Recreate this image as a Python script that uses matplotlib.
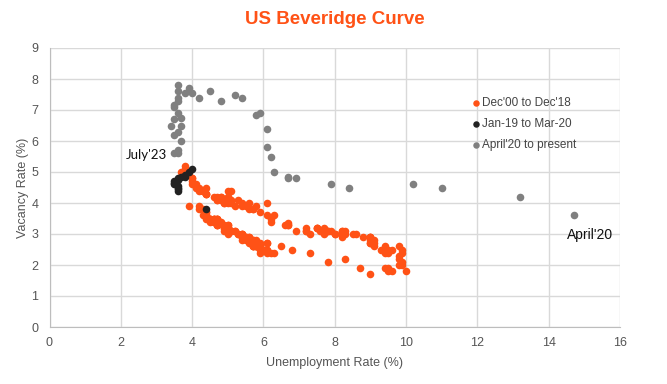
import numpy as np
import matplotlib.pyplot as plt

# Dec'00 to Dec'18 (orange), one value per month
u_orange = [3.9,
            4.2, 4.2, 4.3, 4.4, 4.3, 4.5, 4.6, 4.9, 5.0, 5.3, 5.5, 5.7,
            5.7, 5.7, 5.7, 5.9, 5.8, 5.8, 5.8, 5.7, 5.7, 5.7, 5.9, 6.0,
            5.8, 5.9, 5.9, 6.0, 6.1, 6.3, 6.2, 6.1, 6.1, 6.0, 5.8, 5.7,
            5.7, 5.6, 5.8, 5.6, 5.6, 5.6, 5.5, 5.4, 5.4, 5.5, 5.4, 5.4,
            5.3, 5.4, 5.2, 5.2, 5.1, 5.0, 5.0, 4.9, 5.0, 5.0, 5.0, 4.9,
            4.7, 4.8, 4.7, 4.7, 4.6, 4.6, 4.7, 4.7, 4.5, 4.4, 4.5, 4.4,
            4.6, 4.5, 4.4, 4.5, 4.4, 4.6, 4.7, 4.6, 4.7, 4.7, 4.7, 5.0,
            5.0, 4.9, 5.1, 5.0, 5.4, 5.6, 5.8, 6.1, 6.1, 6.5, 6.8, 7.3,
            7.8, 8.3, 8.7, 9.0, 9.4, 9.5, 9.5, 9.6, 9.8, 10.0, 9.9, 9.9,
            9.8, 9.8, 9.9, 9.9, 9.6, 9.4, 9.4, 9.5, 9.5, 9.4, 9.8, 9.3,
            9.1, 9.0, 9.0, 9.1, 9.0, 9.1, 9.0, 9.0, 9.0, 8.8, 8.6, 8.5,
            8.3, 8.3, 8.2, 8.2, 8.2, 8.2, 8.2, 8.0, 7.8, 7.8, 7.7, 7.9,
            8.0, 7.7, 7.5, 7.6, 7.5, 7.5, 7.3, 7.2, 7.2, 7.2, 6.9, 6.7,
            6.6, 6.7, 6.7, 6.2, 6.3, 6.1, 6.2, 6.1, 5.9, 5.7, 5.8, 5.6,
            5.7, 5.5, 5.4, 5.4, 5.6, 5.3, 5.2, 5.1, 5.0, 5.0, 5.1, 5.0,
            4.8, 4.9, 5.0, 5.1, 4.8, 4.9, 4.8, 4.9, 5.0, 4.9, 4.7, 4.7,
            4.7, 4.6, 4.4, 4.4, 4.4, 4.3, 4.3, 4.4, 4.3, 4.2, 4.2, 4.1,
            4.0, 4.1, 4.0, 4.0, 3.8, 4.0, 3.8, 3.8, 3.7, 3.8, 3.8, 3.9]
v_orange = [3.9,
            3.9, 3.8, 3.8, 3.7, 3.6, 3.5, 3.5, 3.3, 3.2, 3.0, 2.9, 2.8,
            2.8, 2.7, 2.7, 2.7, 2.6, 2.6, 2.6, 2.6, 2.6, 2.6, 2.6, 2.5,
            2.6, 2.5, 2.4, 2.5, 2.5, 2.4, 2.4, 2.4, 2.5, 2.5, 2.6, 2.6,
            2.7, 2.7, 2.7, 2.8, 2.8, 2.9, 2.8, 2.8, 2.9, 2.9, 3.0, 3.0,
            3.0, 3.0, 3.1, 3.1, 3.1, 3.2, 3.1, 3.2, 3.3, 3.2, 3.3, 3.2,
            3.4, 3.4, 3.5, 3.5, 3.4, 3.4, 3.5, 3.5, 3.5, 3.6, 3.5, 3.6,
            3.5, 3.5, 3.7, 3.4, 3.5, 3.5, 3.4, 3.5, 3.3, 3.3, 3.3, 3.2,
            3.2, 3.1, 3.1, 3.0, 2.9, 2.9, 2.8, 2.7, 2.7, 2.6, 2.5, 2.4,
            2.1, 2.2, 1.9, 1.7, 1.9, 1.8, 1.9, 1.8, 2.0, 1.8, 2.1, 2.0,
            2.2, 2.3, 2.4, 2.5, 2.5, 2.4, 2.5, 2.4, 2.5, 2.6, 2.6, 2.5,
            2.6, 2.7, 2.7, 2.8, 2.9, 2.7, 2.9, 2.8, 2.9, 2.9, 3.0, 3.0,
            3.0, 3.1, 3.0, 3.1, 2.9, 3.0, 3.1, 3.0, 3.1, 3.1, 3.0, 3.1,
            3.0, 3.2, 3.2, 3.1, 3.2, 3.2, 3.0, 3.2, 3.1, 3.1, 3.1, 3.35,
            3.3, 3.3, 3.3, 3.5, 3.6, 3.6, 3.4, 4.0, 3.7, 3.8, 3.9, 4.0,
            3.8, 3.9, 4.0, 3.9, 3.8, 4.1, 3.9, 4.1, 4.0, 4.2, 4.0, 4.1,
            4.2, 4.1, 4.4, 4.4, 4.1, 4.0, 4.2, 4.0, 4.2, 4.1, 4.1, 4.2,
            4.1, 4.2, 4.3, 4.3, 4.5, 4.4, 4.4, 4.3, 4.4, 4.5, 4.4, 4.5,
            4.6, 4.6, 4.7, 4.8, 4.9, 4.8, 5.0, 4.9, 5.0, 5.1, 5.2, 5.0]

# Jan-19 to Mar-20 (black)
u_black = [4.0, 3.9, 3.8, 3.8, 3.7, 3.6, 3.6, 3.5, 3.5, 3.5, 3.6, 3.6, 3.6, 3.6, 4.4]
v_black = [5.1, 5.0, 4.9, 4.85, 4.85, 4.8, 4.75, 4.7, 4.65, 4.6, 4.55, 4.5, 4.45, 4.4, 3.8]

# April'20 to present (grey)
u_grey = [14.7, 13.2, 11.0, 10.2, 8.4, 7.9, 6.9, 6.7, 6.7,
          6.3, 6.2, 6.1, 6.1, 5.8, 5.9, 5.4, 5.2, 4.8, 4.5, 4.2, 3.9,
          4.0, 3.8, 3.6, 3.6, 3.6, 3.6, 3.5, 3.7, 3.5, 3.7, 3.6, 3.5,
          3.4, 3.6, 3.5, 3.7, 3.6, 3.6, 3.5]
v_grey = [3.6, 4.2, 4.5, 4.6, 4.5, 4.6, 4.8, 4.85, 4.8,
          5.0, 5.5, 5.8, 6.4, 6.85, 6.9, 7.4, 7.5, 7.3, 7.6, 7.4, 7.7,
          7.55, 7.55, 7.8, 7.6, 7.4, 7.3, 7.15, 6.75, 7.1, 6.5, 6.9, 6.7,
          6.5, 6.3, 6.2, 6.0, 5.7, 5.6, 5.6]

labels = ["Dec'00 to Dec'18", "Jan-19 to Mar-20", "April'20 to present"]
colors = ["#FF5216", "#222222", "#808080"]

fig = plt.figure(figsize=(6.67, 3.84), dpi=100)
ax = fig.add_axes([49.5 / 667, 57 / 384, 570.5 / 667, 279 / 384])

ax.scatter(u_orange, v_orange, s=30, color=colors[0], label=labels[0], zorder=3, linewidths=0)
ax.scatter(u_black, v_black, s=30, color=colors[1], label=labels[1], zorder=4, linewidths=0)
ax.scatter(u_grey, v_grey, s=30, color=colors[2], label=labels[2], zorder=3, linewidths=0)

ax.set_xlim(0, 16)
ax.set_ylim(0, 9)
ax.set_xticks(np.arange(0, 17, 2))
ax.set_yticks(np.arange(0, 10, 1))
ax.grid(True, color="#d9d9d9", linewidth=1)
ax.set_axisbelow(True)
for s in ["top", "right"]:
    ax.spines[s].set_visible(False)
for s in ["left", "bottom"]:
    ax.spines[s].set_color("#bdbdbd")
ax.tick_params(length=0, labelsize=9, labelcolor="#555555")
ax.tick_params(axis="x", pad=7)
ax.tick_params(axis="y", pad=8)
for t in ax.get_xticklabels() + ax.get_yticklabels():
    t.set_fontfamily("Liberation Sans")

ax.set_xlabel("Unemployment Rate (%)", fontsize=9, color="#555555", family="Liberation Sans", labelpad=6)
ax.set_ylabel("Vacancy Rate (%)", fontsize=9, color="#555555", family="Liberation Sans", labelpad=2)

fig.text(335 / 667, 1 - 20 / 384, "US Beveridge Curve", ha="center", va="center",
         fontsize=13.5, fontweight="bold", color="#FF5216", family="Liberation Sans")

ax.text(3.3, 5.55, "July'23", ha="right", va="center", fontsize=9.5, color="#111111", family="Lato")
ax.text(15.15, 2.97, "April'20", ha="center", va="center", fontsize=10, color="#111111", family="Liberation Sans")

leg = ax.legend(loc="upper left", bbox_to_anchor=(467 / 667, 1 - 91 / 384), bbox_transform=fig.transFigure,
                frameon=False, handlelength=0.6, handletextpad=0.15, borderpad=0,
                labelspacing=0.75, markerscale=0.85, prop={"family": "Liberation Sans", "size": 8.5})
for t in leg.get_texts():
    t.set_color("#444444")

fig.savefig("out.png", dpi=100)
